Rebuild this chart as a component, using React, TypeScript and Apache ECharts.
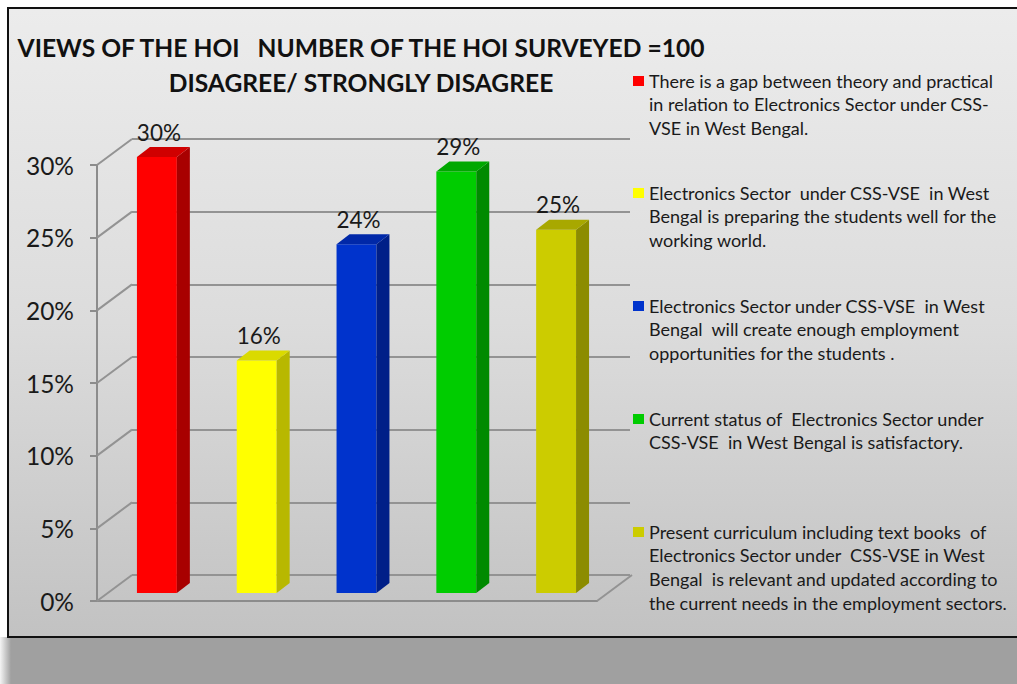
import React, { useEffect, useRef } from "react";
import * as echarts from "echarts";

const titleLines = [
  "VIEWS OF THE HOI   NUMBER OF THE HOI SURVEYED =100",
  "DISAGREE/ STRONGLY DISAGREE",
];

const categories = [
  "There is a gap between theory and practical\nin relation to Electronics Sector under CSS-\nVSE in West Bengal.",
  "Electronics Sector  under CSS-VSE  in West\nBengal is preparing the students well for the\nworking world.",
  "Electronics Sector under CSS-VSE  in West\nBengal  will create enough employment\nopportunities for the students .",
  "Current status of  Electronics Sector under\nCSS-VSE  in West Bengal is satisfactory.",
  "Present curriculum including text books  of\nElectronics Sector under  CSS-VSE in West\nBengal  is relevant and updated according to\nthe current needs in the employment sectors.",
];

const values = [30, 16, 24, 29, 25];

const yTicks = [0, 5, 10, 15, 20, 25, 30];

const frontColors = ["#ff0000", "#ffff00", "#0033cc", "#00cc00", "#cccc00"];
const sideColors = ["#a80000", "#b8b800", "#001f88", "#008a00", "#8c8c00"];
const topColors = ["#d00000", "#dada00", "#0028a8", "#00a800", "#a8a800"];

const FONT = "Lato, 'Noto Sans', sans-serif";

export default function App() {
  const ref = useRef<HTMLDivElement>(null);

  useEffect(() => {
    if (!ref.current) return;
    const chart = echarts.init(ref.current, null, { renderer: "svg" });

    const DX = 13;
    const DY = -10;
    const WALL_DX = 35;
    const WALL_DY = -26;

    const legendGraphics: any[] = [];
    const firstLineY = [81, 193, 306, 419, 532];
    categories.forEach((txt, i) => {
      legendGraphics.push({
        type: "rect",
        left: 633,
        top: firstLineY[i] - 5,
        shape: { width: 11, height: 10 },
        style: { fill: frontColors[i] },
      });
      legendGraphics.push({
        type: "text",
        x: 649,
        y: firstLineY[i] - 12,
        style: {
          text: txt,
          font: `18px ${FONT}`,
          fill: "#1a1a1a",
          lineHeight: 23.6,
          verticalAlign: "top",
          align: "left",
        },
      });
    });

    const option: any = {
      animation: false,
      backgroundColor: "transparent",
      title: {
        text: titleLines.join("\n"),
        left: 356,
        top: 25,
        textAlign: "center",
        textStyle: {
          fontFamily: FONT,
          fontWeight: "bold",
          fontSize: 24.6,
          lineHeight: 35,
          color: "#111",
        },
      },
      graphic: legendGraphics,
      grid: [
        { left: 97, top: 165, width: 500, height: 436 },
        { left: 132, top: 139, width: 498, height: 436 },
        { left: 107, top: 157, width: 499, height: 436 },
      ],
      xAxis: [
        {
          gridIndex: 0,
          type: "value",
          min: 0,
          max: 1,
          axisLine: { show: true, lineStyle: { color: "#8c8c8c", width: 2 } },
          axisTick: { show: false },
          axisLabel: { show: false },
          splitLine: { show: false },
        },
        { gridIndex: 1, type: "value", min: 0, max: 1, show: false },
        { gridIndex: 2, type: "category", data: categories, show: false },
      ],
      yAxis: [
        {
          gridIndex: 0,
          type: "value",
          min: 0,
          max: 30,
          interval: 5,
          axisLine: { show: true, lineStyle: { color: "#8c8c8c", width: 2 } },
          axisTick: { show: true, length: 7, lineStyle: { color: "#8c8c8c", width: 2 } },
          axisLabel: {
            formatter: "{value}%",
            margin: 23,
            fontFamily: FONT,
            fontSize: 24.5,
            color: "#1a1a1a",
          },
          splitLine: { show: false },
        },
        {
          gridIndex: 1,
          type: "value",
          min: 0,
          max: 30,
          interval: 5,
          axisLine: { show: false },
          axisTick: { show: false },
          axisLabel: { show: false },
          splitLine: { show: true, lineStyle: { color: "#939393", width: 2 } },
        },
        { gridIndex: 2, type: "value", min: 0, max: 30, show: false },
      ],
      series: [
        {
          type: "custom",
          name: "walls",
          xAxisIndex: 0,
          yAxisIndex: 0,
          silent: true,
          data: [...yTicks.map((v) => [0, v]), [1, 0]],
          renderItem: (params: any, api: any) => {
            const p = api.coord([api.value(0), api.value(1)]);
            return {
              type: "line",
              shape: { x1: p[0], y1: p[1], x2: p[0] + WALL_DX, y2: p[1] + WALL_DY },
              style: { stroke: "#939393", lineWidth: 2 },
            };
          },
        },
        {
          type: "custom",
          name: "bars",
          xAxisIndex: 2,
          yAxisIndex: 2,
          data: values.map((v, i) => [i, v]),
          z: 5,
          renderItem: (params: any, api: any) => {
            const idx = api.value(0);
            const val = api.value(1);
            const top = api.coord([idx, val]);
            const base = api.coord([idx, 0]);
            const band = api.size([1, 0])[0];
            const w = band * 0.4;
            const x0 = top[0] - w / 2;
            const x1 = top[0] + w / 2;
            const ty = top[1];
            const by = base[1];
            return {
              type: "group",
              children: [
                {
                  type: "polygon",
                  shape: { points: [[x0, ty], [x1, ty], [x1, by], [x0, by]] },
                  style: { fill: frontColors[idx] },
                },
                {
                  type: "polygon",
                  shape: { points: [[x1, ty], [x1 + DX, ty + DY], [x1 + DX, by + DY], [x1, by]] },
                  style: { fill: sideColors[idx] },
                },
                {
                  type: "polygon",
                  shape: { points: [[x0, ty], [x1, ty], [x1 + DX, ty + DY], [x0 + DX, ty + DY]] },
                  style: { fill: topColors[idx] },
                },
                {
                  type: "text",
                  style: {
                    text: val + "%",
                    x: top[0] + 2,
                    y: ty - 25,
                    align: "center",
                    verticalAlign: "middle",
                    font: `22.5px ${FONT}`,
                    fill: "#1a1a1a",
                  },
                },
              ],
            };
          },
        },
      ],
    };

    chart.setOption(option);
    return () => chart.dispose();
  }, []);

  return (
    <div
      style={{
        position: "fixed",
        left: 0,
        top: 0,
        width: 1017,
        height: 684,
        background: "#ffffff",
        overflow: "hidden",
      }}
    >
      <div
        style={{
          position: "absolute",
          left: 0,
          top: 637,
          right: 0,
          bottom: 0,
          background: "linear-gradient(to right, #f4f4f4 0px, #a0a0a0 11px, #a0a0a0 100%)",
        }}
      />
      <div
        style={{
          position: "absolute",
          left: 7,
          top: 7,
          width: 1020,
          height: 627,
          border: "2px solid #111",
          background: "linear-gradient(to bottom, #ececec 0%, #dcdcdc 50%, #c2c2c2 100%)",
        }}
      />
      <div
        ref={ref}
        style={{ position: "absolute", left: 0, top: 0, width: 1017, height: 684 }}
      />
    </div>
  );
}
